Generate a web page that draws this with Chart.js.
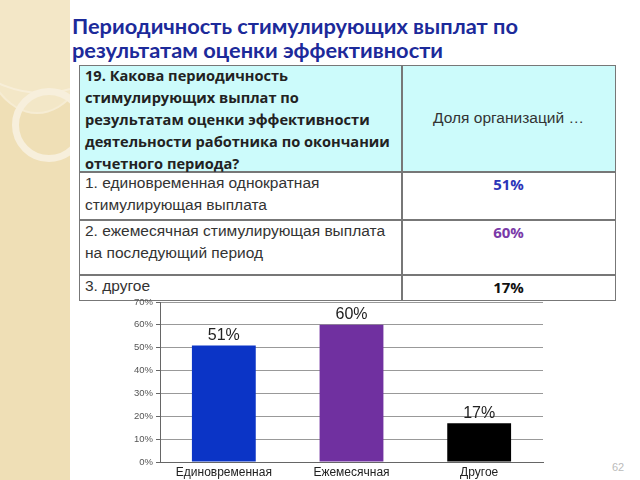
<!DOCTYPE html>
<html><head><meta charset="utf-8">
<script src="https://cdn.jsdelivr.net/npm/chart.js@4"></script>
<style>
html,body{margin:0;padding:0;width:640px;height:480px;overflow:hidden;background:#fff;font-family:"Liberation Sans",Arial,sans-serif;}
#strip{position:absolute;left:0;top:0;width:70px;height:480px;background:#efdfb6;overflow:hidden;}
#strip .c{position:absolute;border-radius:50%;}
#title{position:absolute;left:72px;top:14px;font-family:Lato,"Open Sans",sans-serif;font-weight:bold;font-size:21.8px;line-height:24px;color:#1c2a9a;white-space:nowrap;}
.box{position:absolute;box-sizing:border-box;}
.t{position:absolute;white-space:nowrap;color:#333;font-size:15.5px;line-height:22px;}
.q{font-family:"Open Sans",Lato,sans-serif;font-weight:bold;font-size:14.6px;color:#222;line-height:22px;}
.v{position:absolute;left:402px;width:213px;text-align:center;font-family:"Open Sans",Lato,sans-serif;font-weight:bold;font-size:15px;line-height:22px;}
#chartbox{position:absolute;left:100px;top:290px;width:460px;height:190px;}
#pg{position:absolute;left:612px;top:461px;font-size:11px;color:#bbb;}
</style></head>
<body>
<div id="strip">
  <div class="c" style="left:-60px;top:-110px;width:200px;height:200px;border:2px solid #f6ecd3;"></div>
  <div class="c" style="left:-20px;top:-50px;width:110px;height:160px;border:2px solid #f6ecd3;background:rgba(250,243,225,0.4)"></div>
  <div class="c" style="left:12px;top:88px;width:60px;height:60px;border:7px solid #f7efdc;"></div>
</div>
<div id="title">Периодичность стимулирующих выплат по<br>результатам оценки эффективности</div>

<div class="box" style="left:79px;top:65px;width:537px;height:107px;background:#ccfbfb;"></div>
<div class="box" style="left:79px;top:65px;width:537px;height:236px;border:1.5px solid #777;"></div>
<div class="box" style="left:79px;top:171px;width:537px;height:1.5px;background:#777;"></div>
<div class="box" style="left:79px;top:219px;width:537px;height:1.5px;background:#777;"></div>
<div class="box" style="left:79px;top:274px;width:537px;height:1.5px;background:#777;"></div>
<div class="box" style="left:401px;top:65px;width:1.5px;height:236px;background:#777;"></div>

<div class="t q" style="left:85px;top:64px;">19. Какова периодичность<br>стимулирующих выплат по<br>результатам оценки эффективности<br>деятельности работника по окончании<br>отчетного периода?</div>
<div class="t" style="left:402px;width:213px;text-align:center;top:107px;">Доля организаций …</div>
<div class="t" style="left:85px;top:172px;">1. единовременная однократная<br>стимулирующая выплата</div>
<div class="t" style="left:85px;top:220px;">2. ежемесячная стимулирующая выплата<br>на последующий период</div>
<div class="t" style="left:85px;top:275px;">3. другое</div>
<div class="v" style="top:173px;color:#2b35b8">51%</div>
<div class="v" style="top:221px;color:#7a3aa8">60%</div>
<div class="v" style="top:276px;color:#111">17%</div>

<div id="chartbox"><canvas id="c"></canvas></div>
<div id="pg">62</div>
<script>
const categories = ['Единовременная', 'Ежемесячная', 'Другое'];
const values = [51, 60, 17];
const barColors = ['#0b34c6', '#7030a0', '#000000'];
const yTicks = [0, 10, 20, 30, 40, 50, 60, 70];

const labelPlugin = {
  id: 'barLabels',
  afterDatasetsDraw(chart) {
    const ctx = chart.ctx;
    const meta = chart.getDatasetMeta(0);
    ctx.save();
    ctx.font = '16px "Liberation Sans", Arial, sans-serif';
    ctx.fillStyle = '#222';
    ctx.textAlign = 'center';
    ctx.textBaseline = 'bottom';
    meta.data.forEach((bar, i) => {
      ctx.fillText(values[i] + '%', bar.x, bar.y - 2);
    });
    ctx.restore();
  }
};

new Chart(document.getElementById('c'), {
  type: 'bar',
  data: {
    labels: categories,
    datasets: [{ data: values, backgroundColor: barColors, barPercentage: 0.5, categoryPercentage: 1 }]
  },
  options: {
    responsive: true,
    maintainAspectRatio: false,
    animation: false,
    layout: { padding: { top: 12, right: 17, left: 0, bottom: 0 } },
    plugins: { legend: { display: false }, tooltip: { enabled: false } },
    scales: {
      x: {
        grid: { display: false, drawTicks: false },
        border: { color: '#666' },
        ticks: { color: '#222', font: { size: 12, family: '"Liberation Sans", Arial, sans-serif' }, padding: 3, maxRotation: 0 },
        afterFit(s) { s.height = 18; }
      },
      y: {
        min: 0, max: 70,
        afterBuildTicks(s) { s.ticks = yTicks.map(v => ({ value: v })); },
        grid: { color: '#999', tickLength: 4, tickColor: '#666' },
        border: { color: '#666' },
        ticks: { color: '#555', font: { size: 9.5, family: '"Liberation Sans", Arial, sans-serif' }, padding: 3, callback: v => v + '%' },
        afterFit(s) { s.width = 60; }
      }
    }
  },
  plugins: [labelPlugin]
});
</script>
</body></html>
